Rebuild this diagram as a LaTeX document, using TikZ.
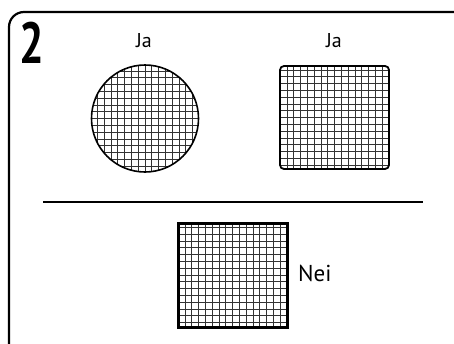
\documentclass[tikz,border=0pt]{standalone}
\usepackage{fontspec}
\setmainfont{PT Sans}
\usetikzlibrary{calc}

\begin{document}
\begin{tikzpicture}[x=1pt, y=-1pt,
      gridln/.style={black!80, line width=0.65pt},
      gridfill/.style={path picture={
        \foreach \k in {-9,...,9}{
          \draw[gridln] ($(path picture bounding box.center)+(\k*6.8,-62)$) -- ++(0,124);
          \draw[gridln] ($(path picture bounding box.center)+(-62,\k*6.8)$) -- ++(124,0);
        }}},
      lbl/.style={inner sep=0pt, font=\fontsize{20pt}{22pt}\selectfont}
    ]
    \useasboundingbox (0,0) rectangle (454,343);
    % card frame, runs off the right and bottom edge
    \draw[line width=2.2pt, rounded corners=15pt] (9,12) rectangle (470,360);
    \node[inner sep=0pt, font=\bfseries\fontsize{58pt}{58pt}\selectfont] (num) at (32,42.5)
      {\scalebox{0.75}[1]{2}};

    % top: circle and square, both Ja
    \node[lbl] (ja1) at (144,41) {Ja};
    \node[lbl] (ja2) at (334,41) {Ja};
    \node[circle, draw, line width=1.6pt, gridfill, minimum size=107pt,
          inner sep=0pt] (circ) at (145,118.5) {};
    \node[rectangle, draw, line width=1.8pt, rounded corners=4pt, gridfill,
          minimum width=109pt, minimum height=103pt, inner sep=0pt] (sqr) at (334.5,117.5) {};

    % divider
    \coordinate (divl) at (43,202);
    \coordinate (divr) at (423,202);
    \draw[line width=2.4pt] (divl) -- (divr);

    % bottom: square, Nei
    \node[lbl, font=\fontsize{23pt}{25pt}\selectfont, anchor=west] (nei) at (298,273) {Nei};
    \node[rectangle, draw, line width=3pt, gridfill,
          minimum width=109pt, minimum height=104pt, inner sep=0pt] (sqb) at (232.5,275) {};
  \end{tikzpicture}
\end{document}
